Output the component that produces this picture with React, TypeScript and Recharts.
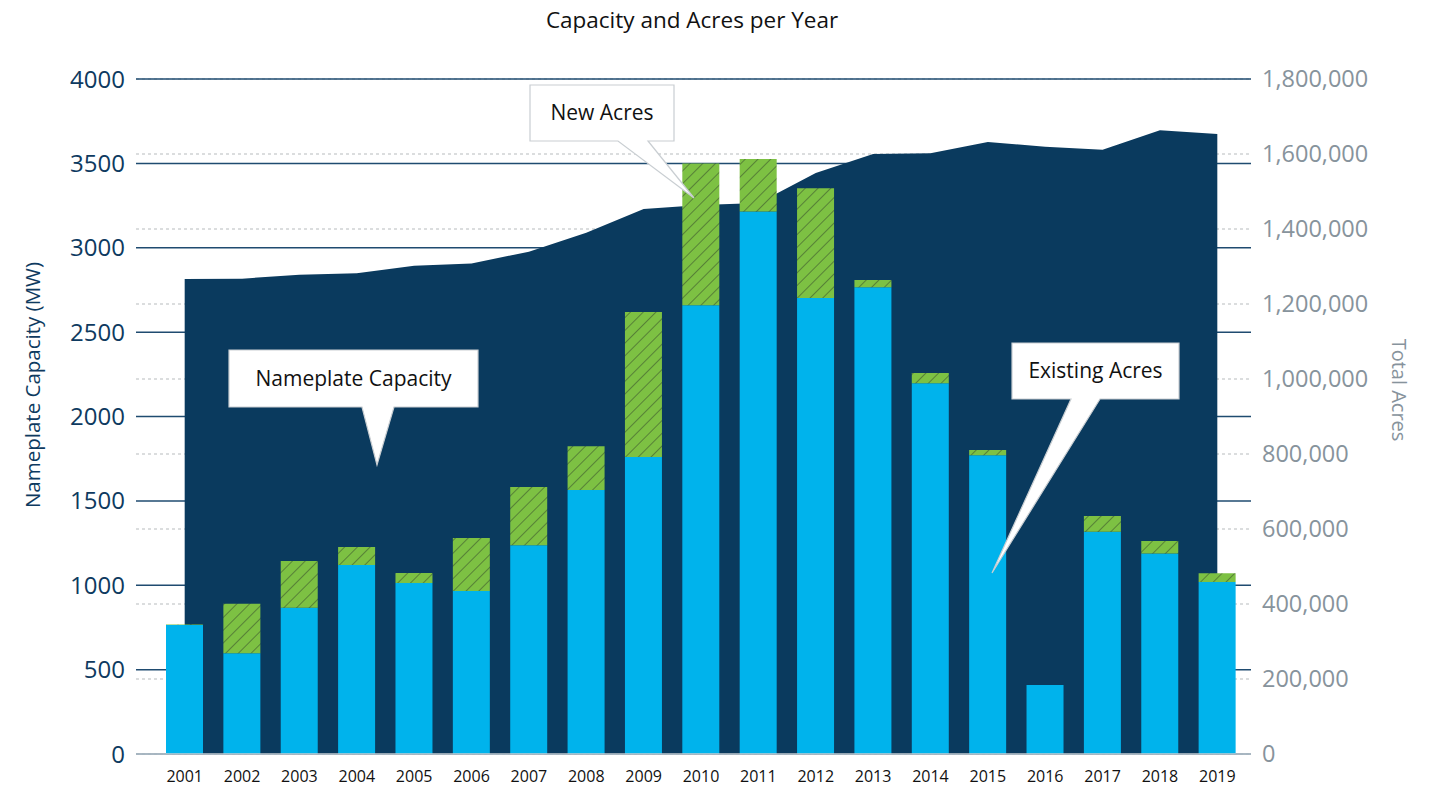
import React from 'react';
import { ComposedChart, Area, Bar, XAxis, YAxis, CartesianGrid } from 'recharts';

const years = ['2001','2002','2003','2004','2005','2006','2007','2008','2009','2010','2011','2012','2013','2014','2015','2016','2017','2018','2019'];
const capacityMW = [2815, 2817, 2840, 2849, 2894, 2906, 2977, 3089, 3230, 3253, 3265, 3443, 3556, 3560, 3627, 3599, 3581, 3696, 3674];
const existingAcres = [344000, 269000, 390000, 504000, 456000, 435000, 557000, 704000, 792000, 1197000, 1447000, 1216000, 1245000, 989000, 797000, 184000, 593000, 535000, 459000];
const newAcres = [1500, 132000, 125000, 48000, 27000, 141000, 155000, 117000, 387000, 378000, 140000, 293000, 19000, 27000, 14000, 0, 42000, 33000, 23000];
const capacityTicks = [0, 500, 1000, 1500, 2000, 2500, 3000, 3500, 4000];
const acreTicks = [0, 200000, 400000, 600000, 800000, 1000000, 1200000, 1400000, 1600000, 1800000];

const data = years.map((y, i) => ({
  year: y,
  capacity: capacityMW[i],
  existing: existingAcres[i],
  added: newAcres[i],
}));

const FONT = '"Open Sans", "Noto Sans", sans-serif';
const NAVY = '#0a3a5e';
const CYAN = '#00b3ec';
const GREEN = '#7dc143';

function Callout({ L, T, R, B, bl, br, tx, ty, text }: any) {
  const pts = `${L},${T} ${R},${T} ${R},${B} ${br},${B} ${tx},${ty} ${bl},${B} ${L},${B}`;
  return (
    <g>
      <polygon points={pts} fill="#ffffff" stroke="#c9ced2" strokeWidth={1.2} strokeLinejoin="miter" />
      <text x={(L + R) / 2} y={(T + B) / 2} dy="0.35em" textAnchor="middle" fontFamily={FONT} fontSize={21} fill="#111">
        {text}
      </text>
    </g>
  );
}

export default function App() {
  return (
    <div style={{ position: 'absolute', left: 0, top: 0, width: 1443, height: 787, background: '#fff' }}>
      <svg width={0} height={0} style={{ position: 'absolute' }}>
        <defs>
          <pattern id="hatch" patternUnits="userSpaceOnUse" width={9} height={9} patternTransform="rotate(45)">
            <rect x={0} y={0} width={9} height={9} fill={GREEN} />
            <line x1={0} y1={0} x2={0} y2={9} stroke="#476531" strokeWidth={1.4} />
          </pattern>
        </defs>
      </svg>
      <ComposedChart
        width={1443}
        height={787}
        data={data}
        margin={{ top: 79, right: 0, bottom: 0, left: 0 }}
        barCategoryGap={0}
      >
        <CartesianGrid yAxisId="right" vertical={false} stroke="#cfd2d4" strokeDasharray="3 3" strokeWidth={1.5} />
        <CartesianGrid yAxisId="left" vertical={false} stroke="#1f4b70" strokeWidth={1.5} />
        <XAxis
          dataKey="year"
          height={33}
          tickSize={0}
          tickMargin={17}
          tickLine={false}
          axisLine={{ stroke: '#c5ccd2', strokeWidth: 1.5 }}
          tick={{ fontSize: 16, fill: '#111', fontFamily: FONT }}
          padding={{ left: 20, right: 5 }}
          interval={0}
        />
        <YAxis
          yAxisId="left"
          orientation="left"
          width={136}
          domain={[0, 4000]}
          ticks={capacityTicks}
          tickSize={0}
          tickMargin={11}
          tickLine={false}
          axisLine={false}
          tick={{ fontSize: 24, fill: '#0e3a60', fontFamily: FONT }}
        />
        <YAxis
          yAxisId="right"
          orientation="right"
          width={192}
          domain={[0, 1800000]}
          ticks={acreTicks}
          tickSize={0}
          tickMargin={11}
          tickLine={false}
          axisLine={false}
          tickFormatter={(v: number) => v.toLocaleString('en-US')}
          tick={{ fontSize: 23.5, fill: '#87939c', fontFamily: FONT }}
        />
        <Area
          yAxisId="left"
          dataKey="capacity"
          type="linear"
          fill={NAVY}
          fillOpacity={1}
          stroke="none"
          isAnimationActive={false}
          dot={false}
          activeDot={false}
        />
        <Bar yAxisId="right" dataKey="existing" stackId="a" fill={CYAN} barSize={37} isAnimationActive={false} />
        <Bar yAxisId="right" dataKey="added" stackId="a" fill="url(#hatch)" barSize={37} isAnimationActive={false} />
      </ComposedChart>
      <svg width={1443} height={787} style={{ position: 'absolute', left: 0, top: 0, pointerEvents: 'none' }}>
        <text x={692} y={20} dy="0.35em" textAnchor="middle" fontFamily={FONT} fontSize={22.5} fill="#111">
          Capacity and Acres per Year
        </text>
        <text
          x={33}
          y={385}
          dy="0.35em"
          textAnchor="middle"
          fontFamily={FONT}
          fontSize={20.5}
          fill="#0e3a60"
          transform="rotate(-90 33 385)"
        >
          Nameplate Capacity (MW)
        </text>
        <text
          x={1399}
          y={390}
          dy="0.35em"
          textAnchor="middle"
          fontFamily={FONT}
          fontSize={20}
          fill="#87939c"
          transform="rotate(90 1399 390)"
        >
          Total Acres
        </text>
        <Callout L={229} T={350} R={478} B={407} bl={362} br={394} tx={377} ty={465} text="Nameplate Capacity" />
        <Callout L={530} T={85} R={674} B={141} bl={618} br={648} tx={694} ty={198} text="New Acres" />
        <Callout L={1012} T={343} R={1179} B={399} bl={1071} br={1100} tx={992} ty={573} text="Existing Acres" />
      </svg>
    </div>
  );
}
